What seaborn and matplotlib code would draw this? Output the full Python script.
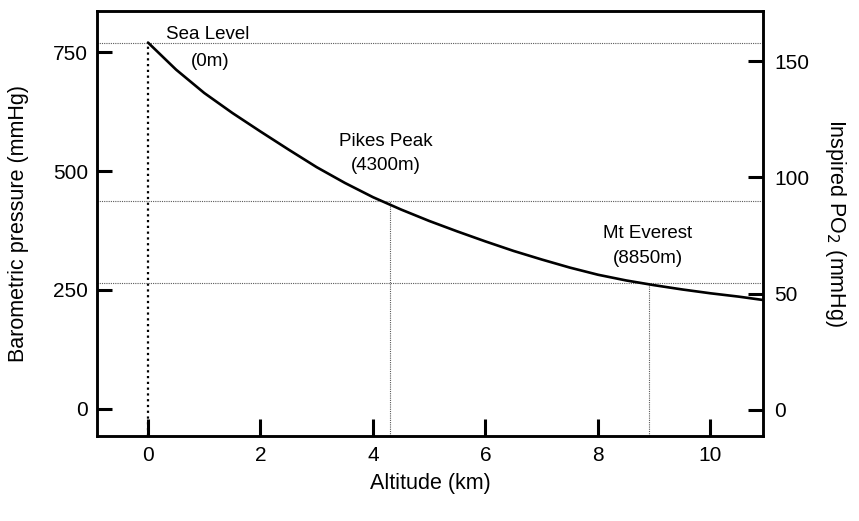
import numpy as np
import pandas as pd
import matplotlib
matplotlib.use("Agg")
from matplotlib import pyplot as plt
import seaborn as sns

# curve: altitude (km) vs barometric pressure (mmHg)
altitude_km = [0.0, 0.5, 1.0, 1.5, 2.0, 2.5, 3.0, 3.5, 4.0, 4.5, 5.0, 5.5,
               6.0, 6.5, 7.0, 7.5, 8.0, 8.5, 9.0, 9.5, 10.0, 10.5, 10.93]
pressure_mmhg = [770, 713, 664, 622, 583, 545, 508, 475, 445, 419, 395, 373,
                 352, 332, 314, 297, 282, 270, 260, 251, 243, 236, 229]

# reference sites
site_names = ["Sea Level", "Pikes Peak", "Mt Everest"]
site_heights = ["(0m)", "(4300m)", "(8850m)"]
site_km = [0.0, 4.3, 8.9]
site_pressure = [770, 436, 265]

x_ticks = [0, 2, 4, 6, 8, 10]
left_ticks = [0, 250, 500, 750]
right_ticks = [0, 50, 100, 150]

sns.set_style("ticks")
plt.rcParams['font.family'] = ['Liberation Sans', 'DejaVu Sans']
plt.rcParams['text.color'] = 'black'
plt.rcParams['axes.labelcolor'] = 'black'
plt.rcParams['xtick.color'] = 'black'
plt.rcParams['ytick.color'] = 'black'

df = pd.DataFrame({"alt": altitude_km, "pb": pressure_mmhg})

fig = plt.figure(figsize=(8.59, 5.21), dpi=100)
ax = fig.add_axes([0.1129, 0.1631, 0.7753, 0.8164])

ylo, yhi = -57, 837
xlo, xhi = -0.907, 10.933

# guide lines
for i, (xk, p) in enumerate(zip(site_km, site_pressure)):
    ax.axhline(p, color='0.35', lw=0.8, ls=(0, (1, 1)), zorder=1)
    if i == 0:
        ax.vlines(xk, ylo, p, color='black', lw=1.6, ls=(0, (1, 1.6)), zorder=1)
    else:
        ax.vlines(xk, ylo, p, color='0.35', lw=0.8, ls=(0, (1, 1)), zorder=1)

sns.lineplot(data=df, x="alt", y="pb", ax=ax, color='black', lw=1.9, zorder=3)

# annotations
ax.text(1.06, 786, site_names[0], ha='center', va='center', fontsize=13.5)
ax.text(1.10, 731, site_heights[0], ha='center', va='center', fontsize=13.5)
ax.text(4.23, 563, site_names[1], ha='center', va='center', fontsize=13.5)
ax.text(4.23, 512, site_heights[1], ha='center', va='center', fontsize=13.5)
ax.text(8.88, 368, site_names[2], ha='center', va='center', fontsize=13.5)
ax.text(8.88, 317, site_heights[2], ha='center', va='center', fontsize=13.5)

ax.set_xlim(xlo, xhi)
ax.set_ylim(ylo, yhi)
ax.set_xticks(x_ticks)
ax.set_yticks(left_ticks)
ax.set_xlabel("Altitude (km)", fontsize=15.5, labelpad=6)
ax.set_ylabel("Barometric pressure (mmHg)", fontsize=15.5, labelpad=17)
ax.tick_params(axis='both', direction='in', length=11, width=2.2,
               labelsize=15, pad=6.5, color='black')
ax.tick_params(axis='x', length=12, pad=7)

ax2 = ax.twinx()
ax2.set_ylim(-11.2, 171.7)
ax2.set_yticks(right_ticks)
ax2.set_ylabel("Inspired PO$_2$ (mmHg)", fontsize=15.5, rotation=270,
               labelpad=28)
ax2.tick_params(axis='y', direction='in', length=11, width=2.2,
                labelsize=15, pad=8, color='black')

for a in (ax, ax2):
    for s in a.spines.values():
        s.set_visible(True)
        s.set_linewidth(1.8)
        s.set_color('black')

fig.savefig("out.png", dpi=100)
